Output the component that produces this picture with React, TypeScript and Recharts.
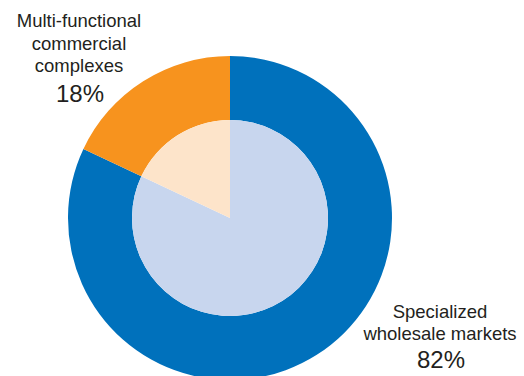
import React from 'react';
import { PieChart, Pie, Cell } from 'recharts';

const categories = ['Specialized wholesale markets', 'Multi-functional commercial complexes'];
const shares = [82, 18];
const outerColors = ['#0071BC', '#F7931E'];
const innerColors = ['#C8D6EE', '#FDE4CA'];
const labelLines = [
  ['Specialized', 'wholesale markets'],
  ['Multi-functional', 'commercial', 'complexes'],
];

const data = categories.map((name, i) => ({ name, value: shares[i] }));

const font = 'Liberation Sans, Arial, Helvetica, sans-serif';

export default function App() {
  return (
    <div style={{ position: 'absolute', left: 0, top: 0, width: 524, height: 376, background: '#fff', overflow: 'hidden' }}>
      <PieChart width={524} height={376} margin={{ top: 0, right: 0, bottom: 0, left: 0 }}>
        <Pie
          data={data}
          dataKey="value"
          cx={230}
          cy={218}
          innerRadius={98}
          outerRadius={162}
          startAngle={90}
          endAngle={-270}
          stroke="none"
          isAnimationActive={false}
        >
          {data.map((d, i) => (
            <Cell key={d.name} fill={outerColors[i]} />
          ))}
        </Pie>
        <Pie
          data={data}
          dataKey="value"
          cx={230}
          cy={218}
          innerRadius={0}
          outerRadius={98}
          startAngle={90}
          endAngle={-270}
          stroke="none"
          isAnimationActive={false}
        >
          {data.map((d, i) => (
            <Cell key={d.name} fill={innerColors[i]} />
          ))}
        </Pie>
      </PieChart>
      <svg width={524} height={376} style={{ position: 'absolute', left: 0, top: 0, pointerEvents: 'none' }}>
        <g fontFamily={font} fill="#231F20" textAnchor="middle">
          {labelLines[1].map((t, i) => (
            <text key={t} x={79} y={27 + i * 22.5} fontSize={18.5}>{t}</text>
          ))}
          <text x={80} y={102} fontSize={24}>{shares[1]}%</text>
          {labelLines[0].map((t, i) => (
            <text key={t} x={440} y={318 + i * 22} fontSize={18.5}>{t}</text>
          ))}
          <text x={441} y={368} fontSize={24}>{shares[0]}%</text>
        </g>
      </svg>
    </div>
  );
}
